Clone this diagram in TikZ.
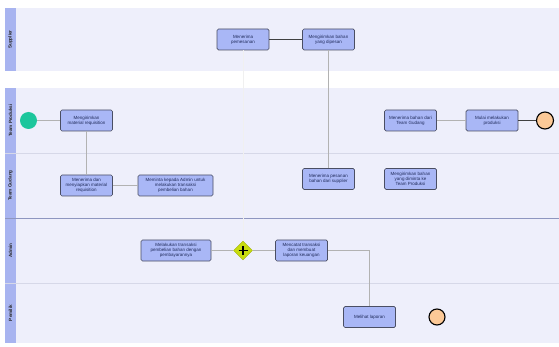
\documentclass[tikz,border=0pt]{standalone}
\usepackage{fontspec}
\setmainfont{Liberation Sans}
\usetikzlibrary{shapes.geometric,calc}
\definecolor{lanebg}{HTML}{EEEFFB}
\definecolor{headbg}{HTML}{A8B4F0}
\definecolor{taskfill}{HTML}{A9B7F6}
\definecolor{taskdraw}{HTML}{4A4E63}
\definecolor{tasktext}{HTML}{1F2A5A}
\definecolor{startc}{HTML}{1CC69C}
\definecolor{endc}{HTML}{FCC997}
\definecolor{gatec}{HTML}{C8DC0E}
\definecolor{sepline}{HTML}{D6D8E8}
\definecolor{sepdark}{HTML}{8E96C0}
\tikzset{
  task/.style={draw=taskdraw, line width=0.7pt, fill=taskfill, rounded corners=1.5pt,
    minimum width=52pt, minimum height=21pt, inner sep=0.5pt, align=center,
    text=tasktext, font=\fontsize{4.5}{5.2}\selectfont},
  wtask/.style={task, minimum width=75pt},
  flow/.style={draw=gray!60, line width=0.4pt},
  darkflow/.style={draw=black!75, line width=0.6pt},
  faint/.style={draw=gray!12, line width=0.4pt},
  lanelabel/.style={rotate=90, font=\fontsize{4.6}{5}\selectfont\bfseries, text=black!85}
}
\begin{document}
\begin{tikzpicture}[x=1pt,y=-1pt]
\useasboundingbox (0,0) rectangle (559,347);
\fill[white] (0,0) rectangle (559,347);
% Supplier pool
\fill[lanebg] (16,8) rectangle (559,71);
\fill[headbg] (5,8) rectangle (16,71);
\node[lanelabel] (lsup) at (10.5,39.5) {Supplier};
% Main pool
\fill[lanebg] (16,88) rectangle (559,343);
\fill[headbg] (5,88) rectangle (16,343);
\draw[sepline, line width=0.6pt] (5,153) -- (559,153);
\draw[sepdark, line width=0.7pt] (5,218) -- (559,218);
\draw[sepline, line width=0.6pt] (5,283) -- (559,283);
\node[lanelabel] (lprod) at (10.5,120.5) {Team Produksi};
\node[lanelabel] (lgud) at (10.5,185.5) {Team Gudang};
\node[lanelabel] (ladm) at (10.5,250.5) {Admin};
\node[lanelabel] (lpem) at (10.5,313) {Pemilik};
% Nodes
\node[task] (mp) at (243,39.5) {Menerima\\pemesanan};
\node[task] (kb) at (328.5,39.5) {Mengirimkan bahan\\yang dipesan};
\node[circle, fill=startc, minimum size=17pt, inner sep=0pt] (start) at (28.5,120.5) {};
\node[task] (mr) at (86.5,120.5) {Mengirimkan\\material requisition};
\node[task] (ms) at (86.5,185.5) {Menerima dan\\menyiapkan material\\requisition};
\node[wtask] (mk) at (175.5,185.5) {Meminta kepada Admin untuk\\melakukan transaksi\\pembelian bahan};
\node[task] (mbg) at (410.5,120.5) {Menerima bahan dari\\Team Gudang};
\node[task] (mulai) at (492,120.5) {Mulai melakukan\\produksi};
\node[circle, draw=black, line width=1.1pt, fill=endc, minimum size=17pt, inner sep=0pt] (end1) at (545,120.5) {};
\node[task] (mps) at (328.5,179) {Menerima pesanan\\bahan dari supplier};
\node[task] (kbp) at (410.5,179) {Mengirimkan bahan\\yang diminta ke\\Team Produksi};
\node[task, minimum width=70pt] (mt) at (176,250.5) {Melakukan transaksi\\pembelian bahan dengan\\pembayarannya};
\node[diamond, fill=gatec, draw=gatec!80!black, line width=0.3pt, minimum size=19pt, inner sep=0pt] (gw) at (243,250.5) {};
\draw[black, line width=1.6pt] ($(gw)+(-4.5,0)$) -- ($(gw)+(4.5,0)$) ($(gw)+(0,-4.5)$) -- ($(gw)+(0,4.5)$);
\node[task] (mc) at (301.5,250.5) {Mencatat transaksi\\dan membuat\\laporan keuangan};
\node[task] (ml) at (369.5,317) {Melihat laporan};
\node[circle, draw=black, line width=1.1pt, fill=endc, minimum size=16pt, inner sep=0pt] (end2) at (437,317) {};
% Connectors
\draw[darkflow] (mp) -- (kb);
\draw[flow] (kb) -- (mps);
\draw[faint] (mp) -- (gw);
\draw[flow] (start) -- (mr);
\draw[flow] (mr) -- (ms);
\draw[flow] (ms) -- (mk);
\draw[flow] (mbg) -- (mulai);
\draw[darkflow] (mulai) -- (end1);
\draw[flow] (mt) -- (gw);
\draw[flow] (gw) -- (mc);
\draw[flow] (mc.east) -| (ml.north);
\end{tikzpicture}
\end{document}
